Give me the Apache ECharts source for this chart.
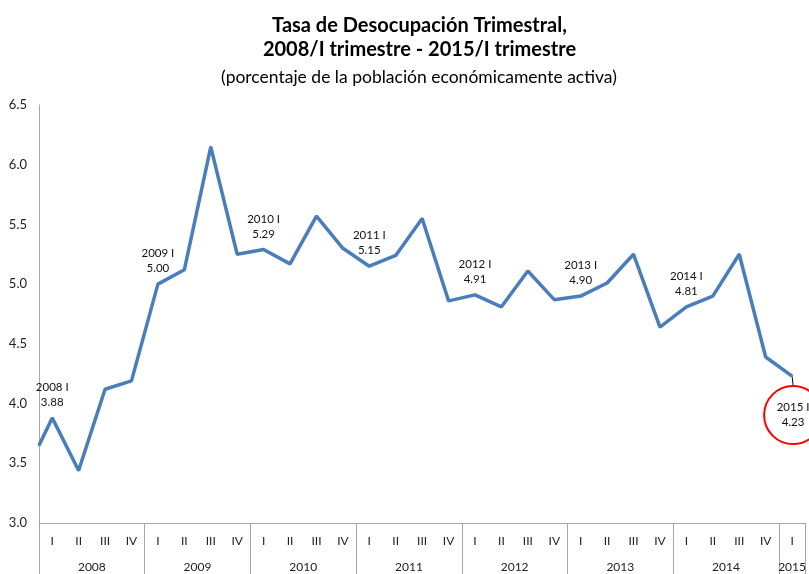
<!DOCTYPE html>
<html>
<head>
<meta charset="utf-8">
<script src="https://cdn.jsdelivr.net/npm/echarts@6/dist/echarts.min.js"></script>
<style>
  html, body { margin: 0; padding: 0; background: #fff; }
  #chart { width: 809px; height: 574px; }
</style>
</head>
<body>
<div id="chart"></div>
<script>
// tasa trimestral
const years = ['2008', '2009', '2010', '2011', '2012', '2013', '2014', '2015'];
const quarterNames = ['I', 'II', 'III', 'IV'];
const rates = [
  3.88, 3.44, 4.12, 4.19,
  5.00, 5.12, 6.15, 5.25,
  5.29, 5.17, 5.57, 5.30,
  5.15, 5.24, 5.55, 4.86,
  4.91, 4.81, 5.11, 4.87,
  4.90, 5.01, 5.25, 4.64,
  4.81, 4.90, 5.25, 4.39,
  4.23
];
// la linea entra por el borde izquierdo del grafico
const leadIn = [-0.5, 3.65];
const yTicks = [3.0, 3.5, 4.0, 4.5, 5.0, 5.5, 6.0, 6.5];

const fontName = 'Lato';
const lineBlue = '#4a7ebb';
const axisGray = '#a6a6a6';

// categorias trimestrales y posiciones de medio trimestre para la fila de años
let quarterCats = [];
let quarterYear = [];
for (let i = 0; i < rates.length; i++) {
  quarterCats.push(quarterNames[i % 4]);
  quarterYear.push(years[Math.floor(i / 4)]);
}
let halfCats = [];
for (let j = 0; j <= rates.length * 2; j++) {
  let q = Math.min(Math.floor(j / 2), rates.length - 1);
  halfCats.push(quarterYear[q]);
}
const lastIdx = rates.length - 1;

let seriesData = [leadIn];
rates.forEach((v, i) => seriesData.push([i, v]));

// ultimo trimestre rodeado en rojo, con linea guia
let lineData = seriesData.map((d, k) => {
  if (k !== lastIdx + 1) return d;
  return {
    value: d,
    label: {
      position: 'bottom',
      distance: 0,
      width: 58,
      align: 'center',
      padding: [14, 0, 14, 0],
      borderColor: '#ff0000',
      borderWidth: 2,
      borderRadius: 29
    },
    labelLine: { show: true, lineStyle: { color: '#000', width: 1 } }
  };
});

const chart = echarts.init(document.getElementById('chart'));
chart.setOption({
  animation: false,
  textStyle: { fontFamily: fontName },
  title: [{
    text: 'Tasa de Desocupación Trimestral,\n2008/I trimestre - 2015/I trimestre',
    left: 414.5,
    top: 8.5,
    textAlign: 'center',
    textStyle: { fontFamily: fontName, fontSize: 20, fontWeight: 'bold', lineHeight: 24, color: '#000' }
  }, {
    text: '(porcentaje de la población económicamente activa)',
    left: 414,
    top: 62,
    textAlign: 'center',
    textStyle: { fontFamily: fontName, fontSize: 17.5, fontWeight: 'normal', lineHeight: 20, color: '#000' }
  }],
  grid: { left: 39, right: 0, top: 105, bottom: 51 },
  xAxis: [{
    type: 'value',
    min: -0.5,
    max: lastIdx + 0.5,
    show: false
  }, {
    type: 'category',
    data: quarterCats,
    position: 'bottom',
    boundaryGap: true,
    axisLine: { show: true, onZero: false, lineStyle: { color: axisGray, width: 1 } },
    axisTick: { show: false },
    axisLabel: { interval: 0, margin: 12, fontSize: 12, color: '#222', fontFamily: fontName }
  }, {
    type: 'category',
    data: halfCats,
    position: 'bottom',
    boundaryGap: false,
    axisLine: { show: false, onZero: false },
    axisTick: {
      show: true,
      inside: false,
      length: 52,
      interval: (j) => j % 8 === 0 || j === halfCats.length - 1,
      lineStyle: { color: axisGray, width: 1 }
    },
    axisLabel: {
      margin: 38,
      fontSize: 12,
      color: '#222',
      fontFamily: fontName,
      interval: (j) => j % 8 === 4 || j === lastIdx * 2 + 1
    }
  }],
  yAxis: {
    type: 'value',
    min: yTicks[0],
    max: yTicks[yTicks.length - 1],
    interval: 0.5,
    axisLine: { show: true, onZero: false, lineStyle: { color: axisGray, width: 1 } },
    axisTick: { show: false },
    splitLine: { show: false },
    axisLabel: {
      margin: 12,
      fontSize: 13,
      color: '#222',
      fontFamily: fontName,
      formatter: (v) => v.toFixed(1)
    }
  },
  series: [{
    type: 'line',
    xAxisIndex: 0,
    data: lineData,
    symbol: 'circle',
    symbolSize: 2,
    showSymbol: true,
    itemStyle: { color: lineBlue },
    lineStyle: { color: lineBlue, width: 3.5 },
    label: {
      show: true,
      position: 'top',
      distance: 7,
      fontSize: 11.5,
      lineHeight: 15,
      color: '#111',
      fontFamily: fontName,
      formatter: (p) => {
        let i = p.dataIndex - 1;
        if (i < 0 || i % 4 !== 0) return '';
        return quarterYear[i] + ' I\n' + rates[i].toFixed(2);
      }
    },
    labelLayout: (p) => {
      if (p.dataIndex === lastIdx + 1) return { dx: 1, dy: 9 };
      return {};
    },
    emphasis: { disabled: true }
  }]
});
</script>
</body>
</html>
